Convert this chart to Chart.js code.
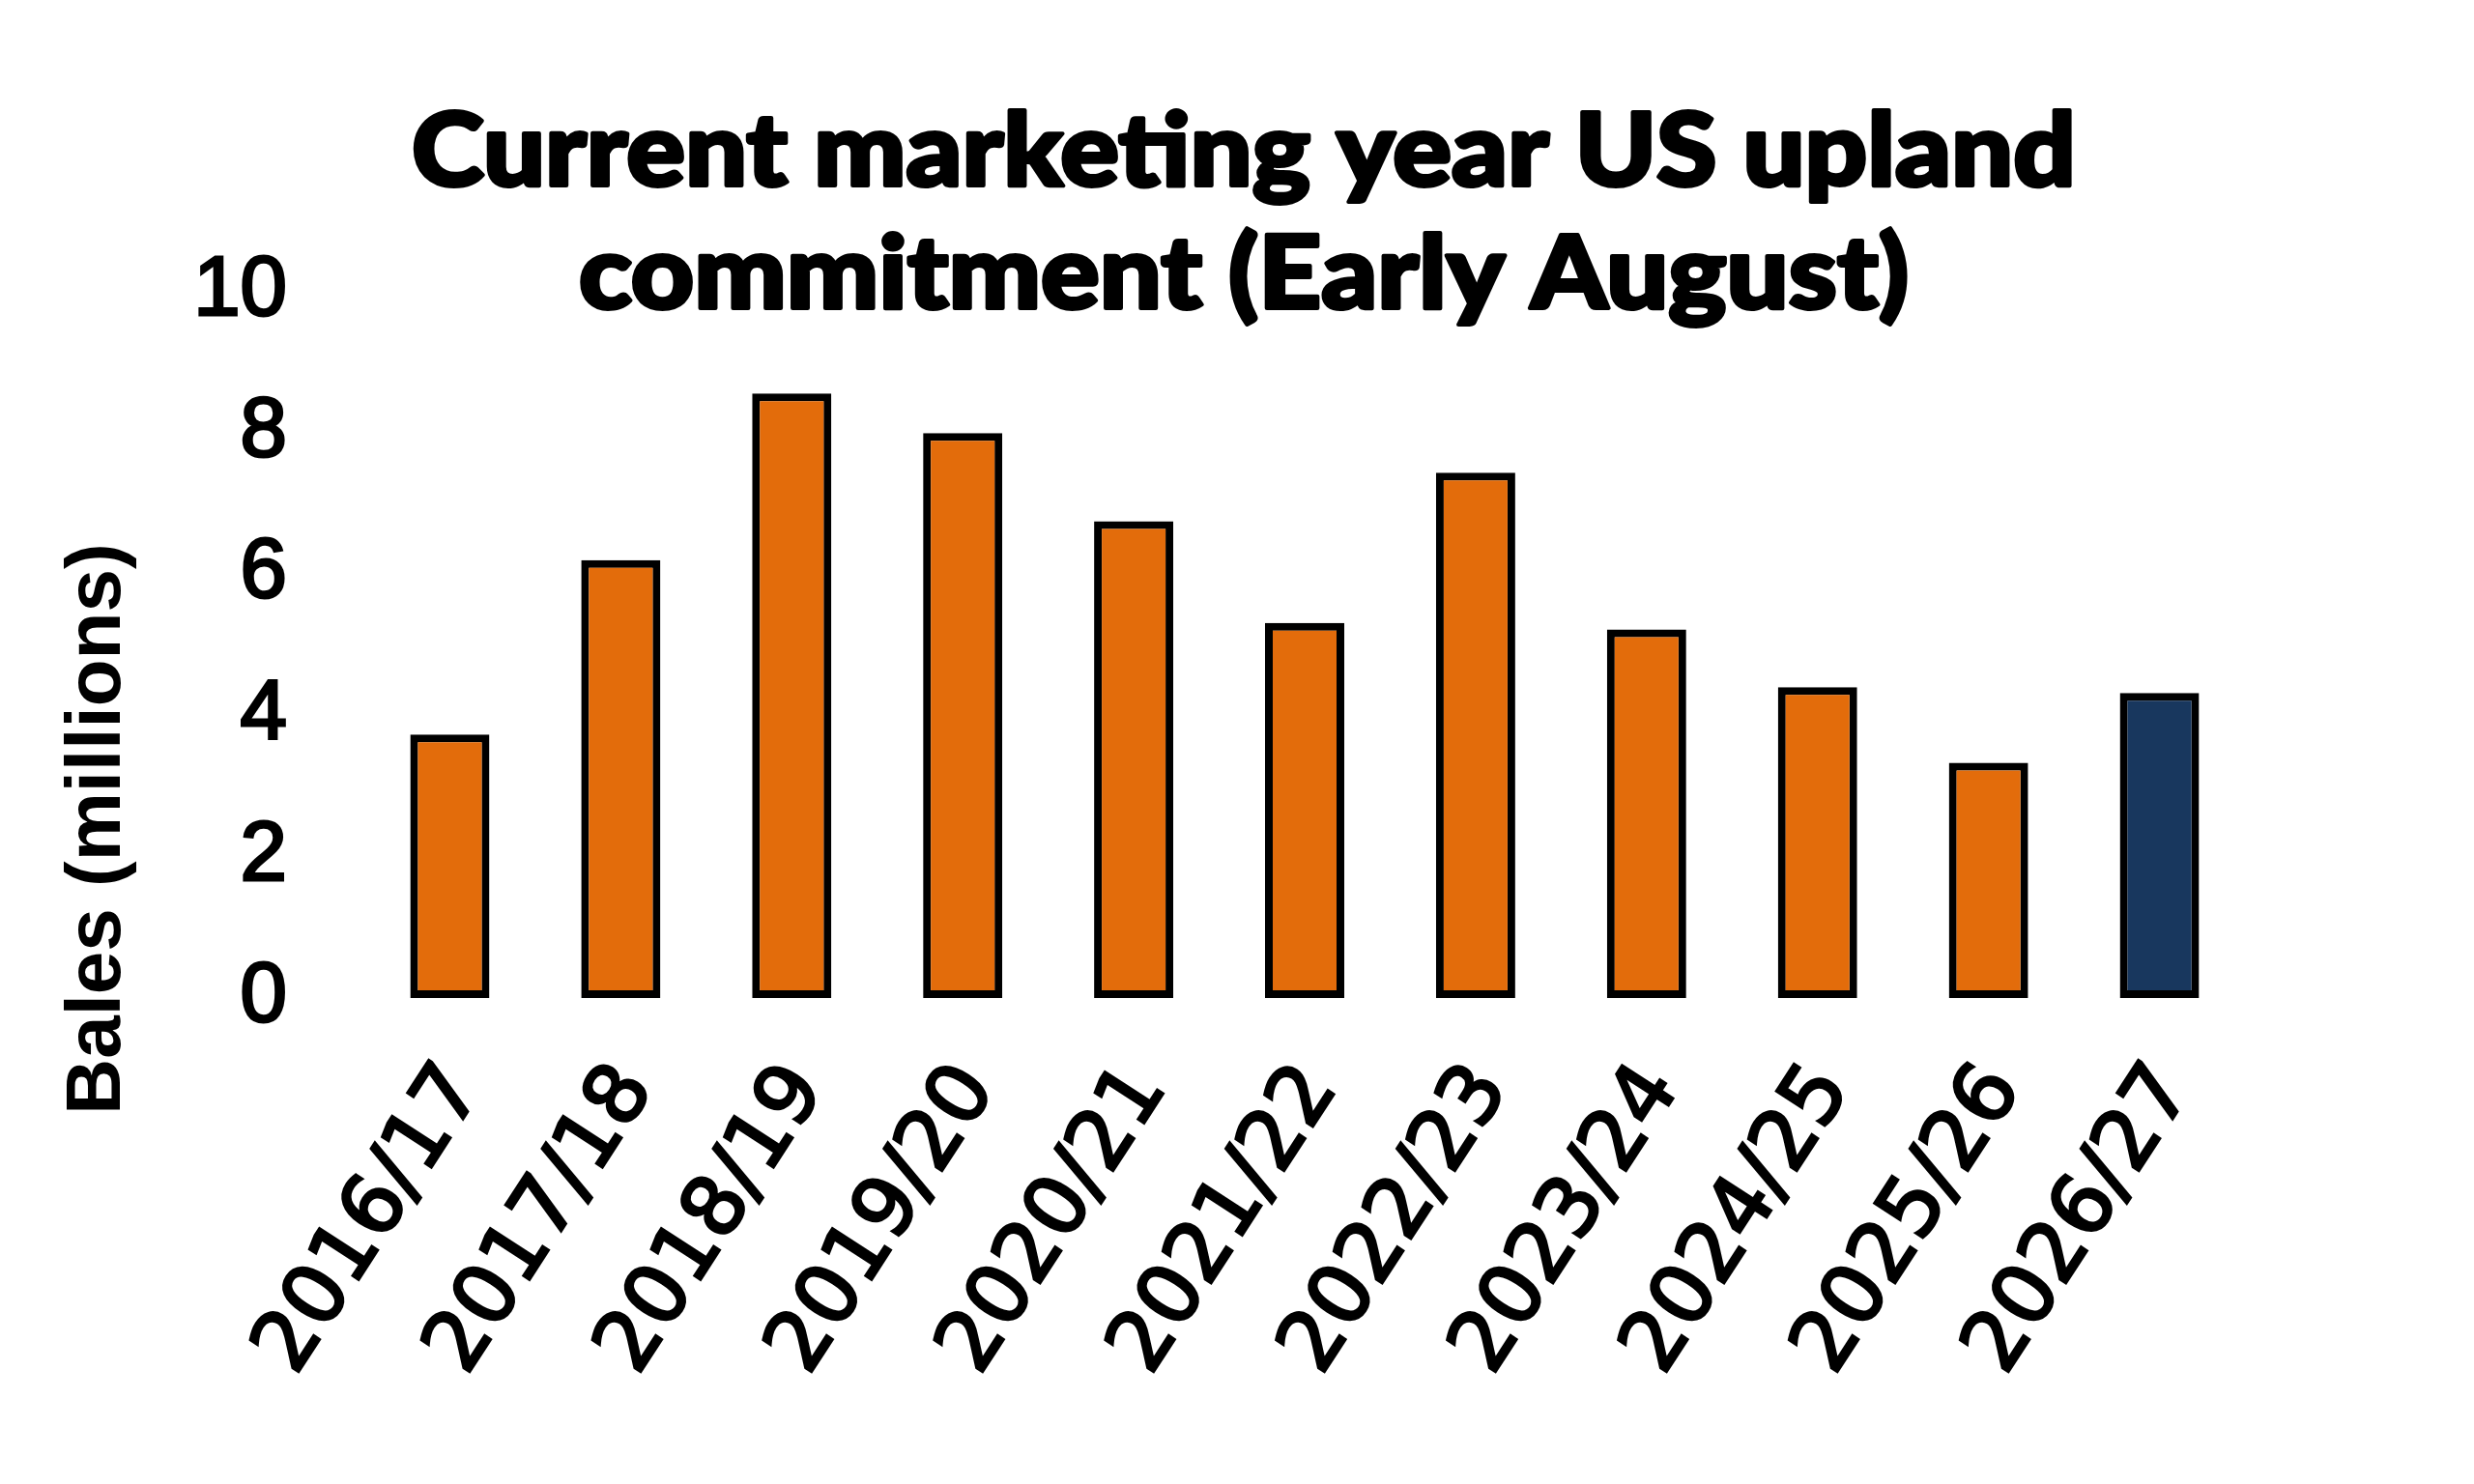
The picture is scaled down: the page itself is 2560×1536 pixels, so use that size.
<!DOCTYPE html>
<html>
<head>
<meta charset="utf-8">
<script src="https://cdn.jsdelivr.net/npm/chart.js@4.4.1/dist/chart.umd.min.js"></script>
<style>
  html, body { margin: 0; padding: 0; background: #ffffff; }
  #wrap { width: 2560px; height: 1536px; }
  canvas { display: block; }
</style>
</head>
<body>
<div id="wrap"><canvas id="c" width="2560" height="1536"></canvas></div>
<script>
// ---- data ----
const categories = ["2016/17","2017/18","2018/19","2019/20","2020/21","2021/22","2022/23","2023/24","2024/25","2025/26","2026/27"];
const commitments = [3.73, 6.20, 8.56, 8.00, 6.75, 5.31, 7.44, 5.22, 4.40, 3.33, 4.32];
const currentYearIndex = 10;
const titleLines = ["Current marketing year US upland", "commitment (Early August)"];
const yAxisTitle = "Bales (millions)";
const yMin = 0, yMax = 10, yStep = 2;

// ---- styles ----
const ORANGE = "#E36C0B";
const NAVY = "#18375E";
const barColors = categories.map((_, i) => i === currentYearIndex ? NAVY : ORANGE);

const titlePlugin = {
  id: 'customTexts',
  afterDraw(chart) {
    const ctx = chart.ctx;
    ctx.save();
    ctx.fillStyle = '#000';
    ctx.strokeStyle = '#000';
    ctx.lineJoin = 'round';
    // Title
    ctx.font = '900 105px "Lato", "Roboto", sans-serif';
    ctx.textAlign = 'center';
    ctx.textBaseline = 'alphabetic';
    const w1 = ctx.measureText(titleLines[0]).width;
    const sx = 1722 / w1;
    const cx = 1287;
    const baselines = [192, 319];
    titleLines.forEach((line, i) => {
      ctx.save();
      ctx.translate(cx, baselines[i]);
      ctx.scale(sx, 1);
      ctx.lineWidth = 4;
      ctx.fillText(line, 0, 0);
      ctx.strokeText(line, 0, 0);
      ctx.restore();
    });
    // Y axis title
    ctx.font = 'bold 80px "Liberation Sans", Arial, sans-serif';
    ctx.textAlign = 'center';
    ctx.textBaseline = 'middle';
    ctx.translate(102, 858);
    ctx.rotate(-Math.PI / 2);
    ctx.fillText(yAxisTitle, 0, 0);
    ctx.restore();
  }
};

function start() {
  new Chart(document.getElementById('c'), {
    type: 'bar',
    data: {
      labels: categories,
      datasets: [{
        data: commitments,
        backgroundColor: barColors,
        borderColor: '#000000',
        borderWidth: 8,
        borderSkipped: false,
        barPercentage: 0.4635,
        categoryPercentage: 1.0
      }]
    },
    options: {
      responsive: false,
      devicePixelRatio: 1,
      animation: false,
      layout: { padding: { top: 302, right: 237, bottom: 0, left: 0 } },
      plugins: {
        legend: { display: false },
        title: { display: false },
        tooltip: { enabled: false }
      },
      scales: {
        x: {
          offset: true,
          grid: { display: false, drawTicks: false },
          border: { display: false },
          ticks: {
            autoSkip: false,
            minRotation: 57,
            maxRotation: 57,
            padding: 52,
            labelOffset: 16,
            color: '#000',
            textStrokeColor: '#000',
            textStrokeWidth: 3,
            font: { family: '"DejaVu Sans", sans-serif', size: 86 }
          },
          afterFit(scale) { scale.height = 503; }
        },
        y: {
          min: yMin,
          max: yMax,
          grid: { display: false, drawTicks: false },
          border: { display: false },
          ticks: {
            stepSize: yStep,
            padding: 80,
            color: '#000',
            textStrokeColor: '#000',
            textStrokeWidth: 3,
            font: { family: '"Liberation Sans", Arial, sans-serif', size: 87 }
          },
          afterFit(scale) { scale.width = 377; }
        }
      }
    },
    plugins: [titlePlugin]
  });
}

const fontLoads = [
  document.fonts.load('900 105px "Lato"'),
  document.fonts.load('bold 80px "Liberation Sans"'),
  document.fonts.load('87px "Liberation Sans"'),
  document.fonts.load('86px "DejaVu Sans"')
];
Promise.all(fontLoads).then(start, start);
</script>
</body>
</html>
